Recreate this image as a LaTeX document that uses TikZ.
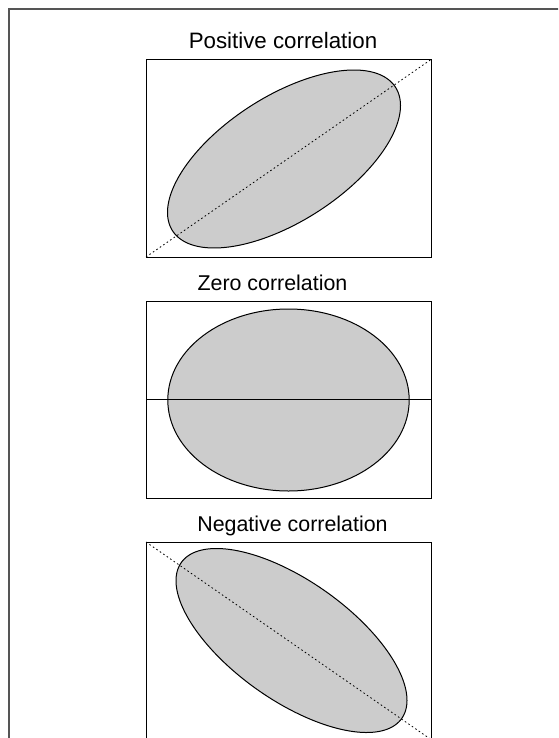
\documentclass[tikz,border=0pt]{standalone}
\usepackage{fontspec}
\setmainfont{Liberation Sans}
\definecolor{ellfill}{RGB}{204,204,204}
\definecolor{framegray}{RGB}{85,85,85}
\tikzset{
  panel/.style={draw=black, line width=0.9pt, minimum width=285pt, minimum height=197.5pt, inner sep=0pt, outer sep=0pt},
  title/.style={anchor=base, inner sep=0pt, font=\fontsize{21.4pt}{25pt}\selectfont},
  ellline/.style={draw=black, line width=1pt},
  diag/.style={line width=0.8pt, dash pattern=on 1.6pt off 2.6pt},
  axisline/.style={line width=0.9pt}
}
\begin{document}
\begin{tikzpicture}[x=1pt, y=-1pt]
\clip (0,0) rectangle (558,738);
\fill[white] (0,0) rectangle (558,738);
% outer frame (cut off at right and bottom)
\draw[framegray, line width=1.3pt] (9,800) -- (9,9) -- (600,9);

% titles
\node[title, font=\fontsize{22.3pt}{26pt}\selectfont] (t1) at (283,48.5) {Positive correlation};
\node[title] (t2) at (272.5,290) {Zero correlation};
\node[title] (t3) at (292.5,531.5) {Negative correlation};

% ellipses (fill)
\fill[ellfill] plot[domain=0:360, samples=181] ({284+116.5*cos(\x)}, {159-89*(0.6*cos(\x)+0.8*sin(\x))}) -- cycle;
\fill[ellfill] (288.5,400) ellipse[x radius=120.7pt, y radius=91pt];
\fill[ellfill] plot[domain=0:360, samples=181] ({291.5+115.5*cos(\x)}, {640.5+92*(0.65*cos(\x)+0.76*sin(\x))}) -- cycle;

% panels
\node[panel] (p1) at (288.5,158.25) {};
\node[panel] (p2) at (288.5,399.75) {};
\node[panel] (p3) at (288.5,640.75) {};

% diagonals / axis
\draw[diag] (p1.south west) -- (p1.north east);
\draw[axisline] (p2.west) -- (p2.east);
\draw[diag] (p3.north west) -- (p3.south east);

% ellipse outlines
\draw[ellline] plot[domain=0:360, samples=181] ({284+116.5*cos(\x)}, {159-89*(0.6*cos(\x)+0.8*sin(\x))}) -- cycle;
\draw[ellline] (288.5,400) ellipse[x radius=120.7pt, y radius=91pt];
\draw[ellline] plot[domain=0:360, samples=181] ({291.5+115.5*cos(\x)}, {640.5+92*(0.65*cos(\x)+0.76*sin(\x))}) -- cycle;
\end{tikzpicture}
\end{document}
